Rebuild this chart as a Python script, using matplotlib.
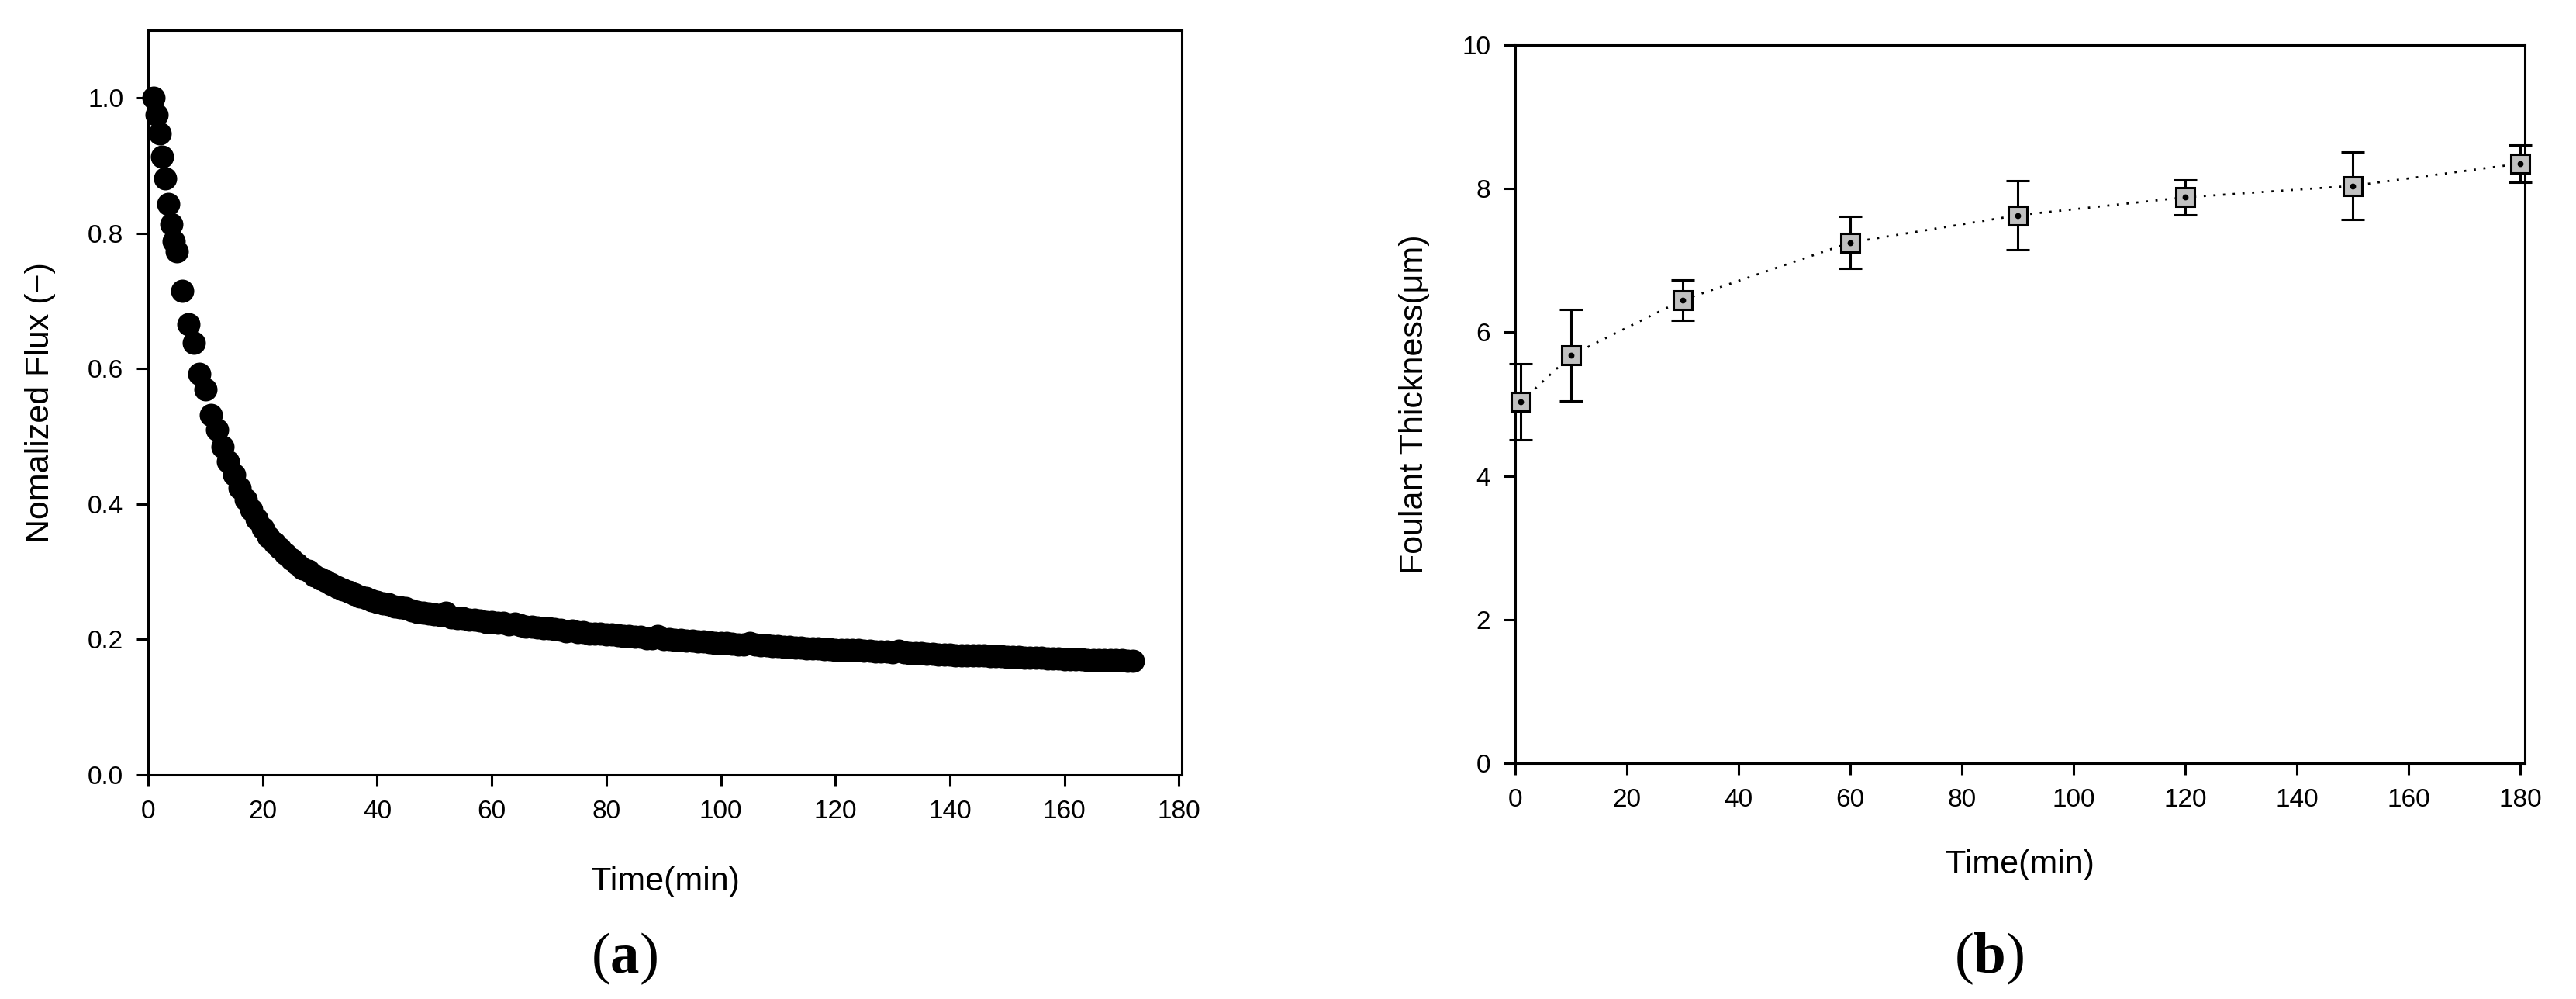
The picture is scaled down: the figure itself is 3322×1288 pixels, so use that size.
import matplotlib
matplotlib.use("Agg")
import matplotlib.pyplot as plt

plt.rcParams["font.family"] = ["Liberation Sans", "DejaVu Sans"]
plt.rcParams["mathtext.fontset"] = "custom"
plt.rcParams["mathtext.bf"] = "Liberation Serif:bold"
plt.rcParams["mathtext.rm"] = "Liberation Serif"

# ---- panel (a): normalized flux vs time ----
time_early = [1, 1.5, 2, 2.5, 3, 3.5, 4, 4.5, 5]
flux_early = [1.000, 0.975, 0.948, 0.913, 0.881, 0.843, 0.813, 0.788, 0.774]

time_late = list(range(6, 173))
flux_late = [
    0.715, 0.666, 0.638, 0.592, 0.569, 0.532, 0.510, 0.485,
    0.463, 0.443, 0.424, 0.407, 0.392, 0.378, 0.364,
    0.352, 0.343, 0.334, 0.326, 0.318, 0.312, 0.305, 0.301, 0.295, 0.290,
    0.286, 0.282, 0.277, 0.274, 0.270, 0.267, 0.263, 0.261, 0.258, 0.256,
    0.253, 0.252, 0.249, 0.247, 0.246, 0.243, 0.241, 0.240, 0.238, 0.237,
    0.236, 0.239, 0.233, 0.232, 0.231, 0.229, 0.229, 0.228, 0.226, 0.226,
    0.225, 0.224, 0.222, 0.223, 0.221, 0.219, 0.219, 0.218, 0.216, 0.216,
    0.215, 0.214, 0.212, 0.213, 0.211, 0.211, 0.209, 0.209, 0.208, 0.207,
    0.207, 0.206, 0.205, 0.205, 0.204, 0.204, 0.202, 0.202, 0.205, 0.200,
    0.200, 0.199, 0.199, 0.198, 0.198, 0.197, 0.197, 0.196, 0.195, 0.195,
    0.195, 0.194, 0.193, 0.193, 0.195, 0.192, 0.191, 0.191, 0.190, 0.190,
    0.189, 0.189, 0.188, 0.188, 0.187, 0.187, 0.187, 0.186, 0.186, 0.185,
    0.185, 0.184, 0.184, 0.184, 0.183, 0.183, 0.182, 0.182, 0.182, 0.181,
    0.183, 0.181, 0.180, 0.180, 0.180, 0.179, 0.179, 0.178, 0.178, 0.178,
    0.177, 0.177, 0.177, 0.176, 0.176, 0.176, 0.175, 0.175, 0.175, 0.174,
    0.174, 0.174, 0.173, 0.173, 0.173, 0.173, 0.172, 0.172, 0.172, 0.171,
    0.171, 0.171, 0.171, 0.170, 0.170, 0.170, 0.169, 0.169, 0.169, 0.169,
    0.168, 0.168,
]

# ---- panel (b): foulant thickness vs time ----
thick_time = [1, 10, 30, 60, 90, 120, 150, 180]
thickness = [5.03, 5.68, 6.45, 7.25, 7.63, 7.88, 8.04, 8.35]
thick_err = [0.53, 0.64, 0.28, 0.36, 0.48, 0.24, 0.47, 0.26]

LW = 1.1
TICK_FS = 12
LABEL_FS = 15.5


def style_axes(ax):
    for sp in ax.spines.values():
        sp.set_linewidth(LW)
    ax.tick_params(direction="out", length=5.4, width=LW, labelsize=TICK_FS,
                   top=False, right=False, pad=6)


fig = plt.figure(figsize=(16.61, 6.44), dpi=200)

# (a)
ax1 = fig.add_axes([0.0575, 0.2244, 0.4013, 0.7453])
ax1.plot(time_early + time_late, flux_early + flux_late, "o", color="black",
         markersize=10.8, markeredgewidth=0, clip_on=False)
ax1.set_xlim(0, 180.5)
ax1.set_ylim(0, 1.1)
ax1.set_xticks(range(0, 181, 20))
ax1.set_yticks([0.0, 0.2, 0.4, 0.6, 0.8, 1.0])
ax1.set_yticklabels(["0.0", "0.2", "0.4", "0.6", "0.8", "1.0"])
style_axes(ax1)
ax1.set_xlabel("Time(min)", fontsize=LABEL_FS)
ax1.set_ylabel("Nomalized Flux (\u2212)", fontsize=LABEL_FS)
ax1.xaxis.set_label_coords(0.5, -0.144)
ax1.xaxis.label.set_va("center")
ax1.yaxis.set_label_coords(-0.104, 0.5)
ax1.yaxis.label.set_va("center")

# (b)
ax2 = fig.add_axes([0.5882, 0.2360, 0.3919, 0.7189])
ax2.plot(thick_time, thickness, color="black", linewidth=1.0,
         linestyle=(0, (1, 3.5)), zorder=2)
ax2.errorbar(thick_time, thickness, yerr=thick_err, fmt="none",
             ecolor="black", elinewidth=LW, capsize=5.4, capthick=LW,
             zorder=3, clip_on=False)
ax2.plot(thick_time, thickness, "s", markersize=8.4, markerfacecolor="#c0c0c0",
         markeredgecolor="black", markeredgewidth=LW, zorder=4, clip_on=False)
ax2.plot(thick_time, thickness, "o", markersize=1.8, color="black",
         zorder=5, clip_on=False)
ax2.set_xlim(0, 180.8)
ax2.set_ylim(0, 10)
ax2.set_xticks(range(0, 181, 20))
ax2.set_yticks(range(0, 11, 2))
style_axes(ax2)
ax2.set_xlabel("Time(min)", fontsize=LABEL_FS)
ax2.set_ylabel("Foulant Thickness(\u03bcm)", fontsize=LABEL_FS)
ax2.xaxis.set_label_coords(0.5, -0.141)
ax2.xaxis.label.set_va("center")
ax2.yaxis.set_label_coords(-0.0998, 0.5)
ax2.yaxis.label.set_va("center")

# panel letters
for xpix, letter in [(805, "a"), (2565, "b")]:
    fig.text(xpix / 3322, 1 - 1236 / 1288, "(" + r"$\mathbf{" + letter + "}$" + ")",
             fontsize=27, family="Liberation Serif", ha="center", va="center")

fig.savefig("out.png", dpi=200)
